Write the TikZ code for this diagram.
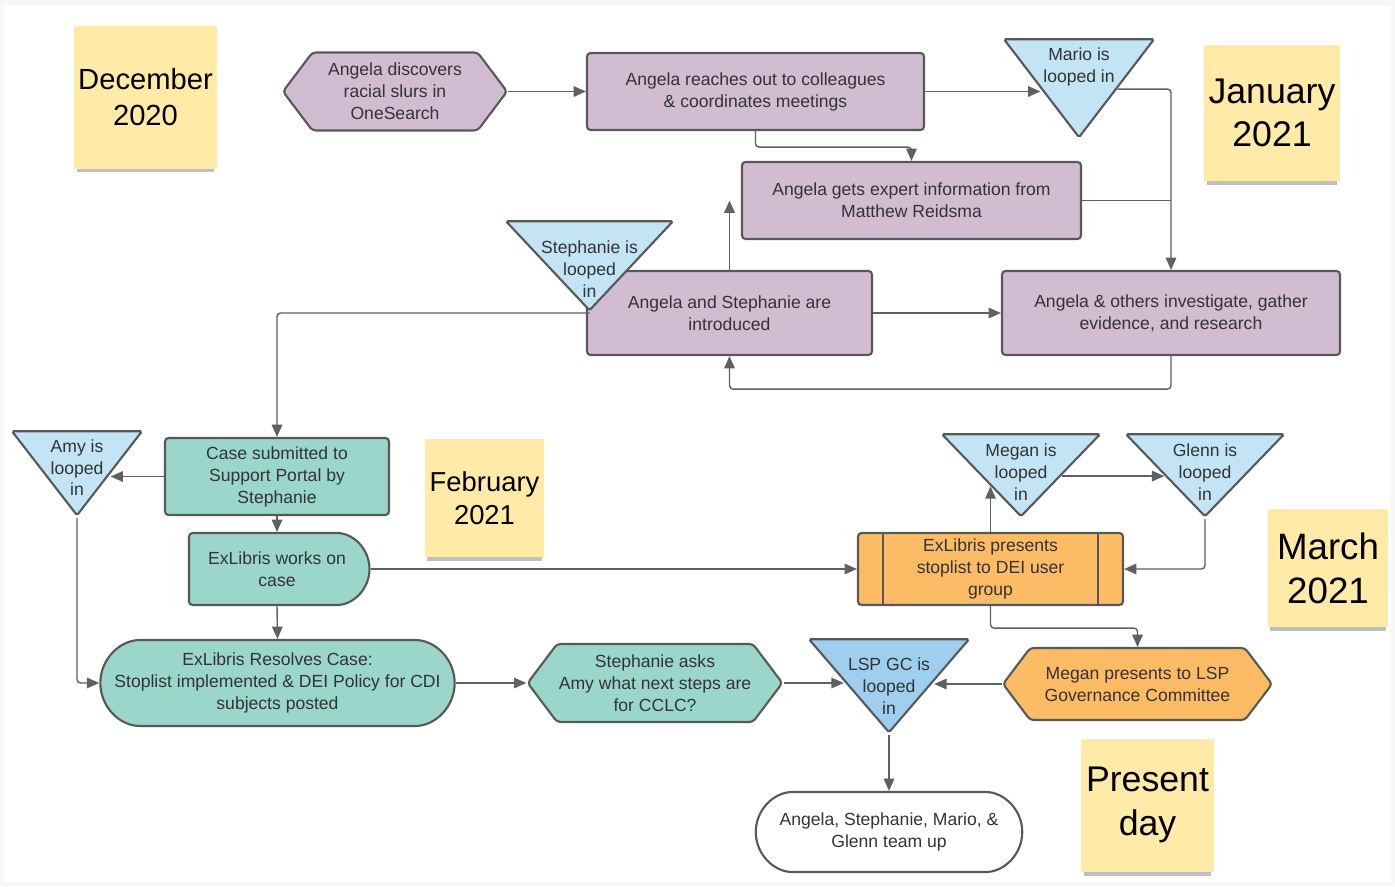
\documentclass[tikz,border=0pt]{standalone}
\usepackage{fontspec}
\setmainfont{Liberation Sans}
\usepackage{xcolor}
\usetikzlibrary{arrows.meta,positioning,shapes.misc,shapes.geometric,shapes.symbols,shadows,calc}

\definecolor{lilac}{RGB}{209,188,210}
\definecolor{mint}{RGB}{154,214,202}
\definecolor{sky}{RGB}{194,228,245}
\definecolor{skydeep}{RGB}{158,207,238}
\definecolor{amber}{RGB}{253,187,101}
\definecolor{sticky}{RGB}{255,234,167}
\definecolor{edge}{RGB}{88,88,88}
\definecolor{ink}{RGB}{51,51,51}
\definecolor{wire}{RGB}{96,96,96}

% text that may run over a triangle's edges
\newcommand{\tritext}[2][0pt]{\smash{\raisebox{#1}{\makebox[0pt]{\begin{tabular}{@{}c@{}}#2\end{tabular}}}}}

\begin{document}
\begin{tikzpicture}[
    x=0.02cm, y=-0.02cm,
    font=\fontsize{10}{12.5}\selectfont,
    sz/.style 2 args={minimum width=#1*0.02cm, minimum height=#2*0.02cm},
    box/.style={draw=edge, line width=1.2pt, rounded corners=2pt, align=center,
                text=ink, inner sep=1pt},
    hexbox/.style={box, signal, signal to=west and east, signal pointer angle=106},
    looptri/.style={box, fill=sky, isosceles triangle, shape border rotate=270,
                isosceles triangle stretches, inner sep=0pt, rounded corners=1pt},
    note/.style={fill=sticky, align=center, inner sep=0pt,
                drop shadow={shadow xshift=0pt, shadow yshift=-4pt, shadow scale=0.96, opacity=0.25, fill=black}},
    arrow/.style={draw=wire, line width=0.8pt, -{Triangle[length=7pt,width=6pt]}, rounded corners=2pt},
    link/.style={draw=wire, line width=0.8pt, rounded corners=2pt}
]
\fill[black!3] (0,0) rectangle (1395,886);
\fill[white] (4,5) rectangle (1391,882);
\useasboundingbox (0,0) rectangle (1395,886);

\node[note, sz={143}{143}, font=\fontsize{16.6}{20.5}\selectfont] (dec) at (145.5,97) {December\\2020};
\node[note, sz={136}{136}, font=\fontsize{20.3}{24.5}\selectfont] (jan) at (1272,113) {January\\2021};
\node[note, sz={119}{118}, font=\fontsize{15.6}{18.8}\selectfont] (feb) at (484.5,498) {February\\2021};
\node[note, sz={120}{118}, font=\fontsize{20.9}{25}\selectfont] (mar) at (1328,568) {March\\2021};
\node[note, sz={133}{133}, font=\fontsize{20.3}{25}\selectfont] (now) at (1147.5,805) {Present\\day};

\node[hexbox, fill=lilac, sz={224}{78}] (disc) at (395,91.5) {Angela discovers\\racial slurs in\\OneSearch};
\node[box, fill=lilac, sz={337}{77}] (reach) at (755.5,91.5) {Angela reaches out to colleagues\\\& coordinates meetings};
\node[looptri, sz={150}{98}, anchor=apex] (mario) at (1079,140) {\tritext[2.8pt]{Mario is\\looped in}};
\node[box, fill=lilac, sz={339}{77}] (expert) at (911.5,200.5) {Angela gets expert information from\\Matthew Reidsma};
\node[box, fill=lilac, sz={285}{84}] (intro) at (729.5,313) {Angela and Stephanie are\\introduced};
\node[looptri, sz={167}{89}, anchor=apex] (steph) at (589.5,313) {\tritext[-10.2pt]{Stephanie is\\looped\\in}};
\node[box, fill=lilac, sz={338}{84}] (invest) at (1171,313) {Angela \& others investigate, gather\\evidence, and research};

\node[box, fill=mint, sz={224}{77}] (case) at (277,476.5) {Case submitted to\\Support Portal by\\Stephanie};
\node[looptri, sz={130}{84}, anchor=apex] (amy) at (77,518) {\tritext[-6.2pt]{Amy is\\looped\\in}};
\node[box, fill=mint, rounded rectangle, rounded rectangle west arc=none, sz={184}{72}] (works) at (277,569) {ExLibris works on\\case};
\node[box, fill=mint, rounded rectangle, sz={347}{86}] (resolve) at (277.5,683) {ExLibris Resolves Case:\\Stoplist implemented \& DEI Policy for CDI\\subjects posted};
\node[hexbox, fill=mint, sz={242}{78}] (asks) at (655,683) {Stephanie asks\\Amy what next steps are\\for CCLC?};

\node[box, fill=amber, sz={265}{72}] (pres) at (990.5,569) {ExLibris presents\\stoplist to DEI user\\group};
\draw[edge, line width=1.2pt] ([xshift=26*0.02cm]pres.north west) -- ([xshift=26*0.02cm]pres.south west)
    ([xshift=-26*0.02cm]pres.north east) -- ([xshift=-26*0.02cm]pres.south east);
\node[looptri, sz={158}{82}, anchor=apex] (megan) at (1021,519) {\tritext[-6pt]{Megan is\\looped\\in}};
\node[looptri, sz={158}{82}, anchor=apex] (glenn) at (1205,519) {\tritext[-6pt]{Glenn is\\looped\\in}};
\node[hexbox, fill=amber, sz={269}{72}] (megpres) at (1137.5,684) {Megan presents to LSP\\Governance Committee};
\node[looptri, fill=skydeep, sz={160}{93}, anchor=apex] (lsp) at (889,735) {\tritext[-9.6pt]{LSP GC is\\looped\\in}};
\node[box, fill=white, rounded rectangle, sz={270}{80}] (team) at (889,832) {Angela, Stephanie, Mario, \&\\Glenn team up};

\coordinate (lsp-w) at ($(lsp.right corner)!0.45!(lsp.apex)$);
\coordinate (lsp-e) at ($(lsp.left corner)!0.45!(lsp.apex)$);
\coordinate (megan-w) at ($(megan.right corner)!0.62!(megan.apex)$);

\draw[arrow] (disc.east) -- (reach.west);
\draw[arrow] (reach.east) -- (reach.east -| mario.right side);
\draw[arrow] (reach.south) -- ++(0,16) -| (expert.north);
\draw[arrow] (mario.left side) -| (invest.north);
\draw[link] (expert.east) -- (expert.east -| invest.north);
\draw[arrow] (intro.north) -- (intro.north |- expert.west);
\draw[arrow] (intro.east) -- (invest.west);
\draw[arrow] (invest.south) -- ++(0,33) -| (intro.south);
\draw[arrow] (steph.apex) -| (case.north);

\draw[arrow] (case.west) -- (case.west -| amy.left side);
\draw[arrow] (case.south) -- (works.north);
\draw[arrow] (works.south) -- (resolve.north);
\draw[arrow] (amy.apex) |- (resolve.west);
\draw[arrow] (works.east) -- (pres.west);
\draw[arrow] (resolve.east) -- (asks.west);
\draw[arrow] (asks.east) -- (asks.east -| lsp-w);
\draw[arrow] (megpres.west) -- (megpres.west -| lsp-e);
\draw[arrow] (lsp.apex) -- (team.north);

\draw[arrow] (pres.north) -- (pres.north |- megan-w);
\draw[arrow] (megan.left side) -- (glenn.right side);
\draw[arrow] (glenn.apex) |- (pres.east);
\draw[arrow] (pres.south) -- ++(0,22) -| (megpres.north);
\end{tikzpicture}
\end{document}
